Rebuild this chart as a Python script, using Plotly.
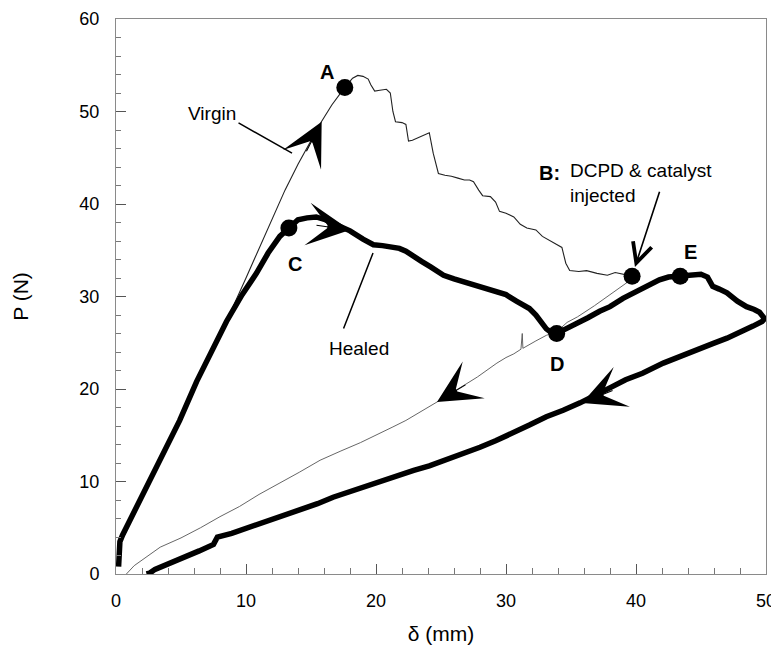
import plotly.graph_objects as go

# ---- data (delta in mm, P in N) ----
virgin_x = [0.25, 0.35, 1.0, 2.0, 3.0, 4.0, 5.0, 6.0, 7.0, 8.0, 9.0, 10.0, 11.0, 12.0, 13.0, 14.0, 15.0, 15.8, 16.6, 17.6,
            18.2, 18.6, 19.0, 19.4, 19.6, 19.9, 20.3, 20.8, 21.1, 21.3, 21.5, 22.0, 22.3, 22.5, 22.8, 23.3, 23.8, 24.1,
            24.4, 24.8, 25.3, 25.8, 26.3, 26.8, 27.2, 27.5, 27.9, 28.2, 28.8, 29.2, 29.5, 30.0, 30.6, 31.1, 31.6, 32.3,
            32.8, 33.3, 33.9, 34.3, 34.6, 34.9, 35.6, 36.2, 37.0, 37.8, 38.4, 39.0, 39.7]
virgin_p = [1.2, 3.3, 5.3, 8.4, 11.3, 14.2, 17.2, 20.3, 23.2, 26.0, 28.9, 32.0, 35.2, 38.3, 41.5, 44.3, 46.9, 48.9, 50.7, 52.6,
            53.6, 53.9, 53.8, 53.5, 52.9, 52.2, 52.3, 52.4, 52.0, 50.0, 48.9, 48.8, 48.6, 46.8, 46.9, 47.2, 47.5, 47.7,
            45.5, 43.3, 43.1, 43.0, 42.8, 42.6, 42.6, 42.4, 41.5, 40.9, 40.8, 40.2, 39.2, 39.0, 38.6, 37.8, 37.4, 37.2,
            36.5, 36.1, 35.7, 35.3, 33.6, 32.8, 32.7, 32.8, 32.5, 32.3, 32.6, 32.4, 32.2]

unload_v_x = [39.7, 39.3, 38.0, 36.8, 35.5, 34.7, 33.9, 33.1, 32.3, 31.5, 31.3, 31.25, 31.15, 30.6, 30.0, 29.3, 28.5, 27.8,
              27.0, 26.5, 25.6, 24.7, 23.5, 22.3, 21.3, 20.0, 18.8, 17.3, 15.7, 14.1, 12.6, 11.0, 9.5, 8.0, 6.5, 5.0,
              3.4, 2.2, 1.4, 0.8]
unload_v_p = [32.2, 31.5, 30.2, 29.0, 27.8, 27.2, 26.2, 25.8, 25.2, 24.6, 24.4, 26.0, 24.3, 23.8, 23.4, 22.8, 22.0, 21.3,
              20.6, 20.2, 19.4, 18.6, 17.6, 16.6, 15.9, 15.0, 14.2, 13.3, 12.3, 11.0, 9.8, 8.6, 7.3, 6.2, 5.0, 3.9,
              2.9, 1.7, 0.9, 0.0]

healed_x = [0.2, 0.3, 0.5, 1.0, 2.0, 2.6, 3.5, 4.9, 6.2, 7.3, 8.5, 9.7, 10.8, 11.7, 12.6, 13.3, 14.0, 14.7, 15.4, 16.1,
            16.7, 17.4, 18.0, 19.0, 19.8, 20.5, 21.2, 21.8, 22.3, 22.8, 23.5, 24.2, 25.2, 26.0, 26.7, 27.3, 28.0, 29.3,
            30.0, 30.8, 31.8, 32.3, 32.6, 33.1, 33.5, 33.9, 34.6, 35.5, 36.3, 37.2, 38.0, 39.0, 40.3, 41.1, 41.8, 42.5,
            43.4, 44.2, 45.0, 45.5, 45.9, 46.4, 47.0, 47.8, 48.5, 49.1, 49.5, 49.9, 49.7, 49.0, 48.0, 47.0, 45.9, 44.5,
            43.4, 42.1, 40.5, 39.2, 38.1, 36.9, 35.7, 34.4, 33.1, 31.8, 30.5, 29.2, 28.0, 26.7, 25.4, 24.1, 22.9, 21.6,
            20.3, 19.0, 17.8, 16.7, 15.5, 14.1, 12.6, 11.3, 10.1, 8.9, 7.8, 7.5, 6.4, 5.2, 4.0, 3.0, 2.6, 2.35]
healed_p = [0.8, 3.5, 4.2, 5.6, 8.5, 10.2, 12.8, 16.6, 20.8, 24.0, 27.3, 30.2, 32.5, 34.7, 36.5, 37.4, 38.3, 38.5, 38.6, 38.3,
            37.9, 37.5, 37.1, 36.2, 35.6, 35.5, 35.3, 35.2, 34.9, 34.5, 33.8, 33.2, 32.3, 31.9, 31.6, 31.3, 31.0, 30.5,
            30.2, 29.5, 28.7, 28.0, 27.4, 26.5, 26.1, 26.0, 26.5, 27.1, 27.7, 28.4, 28.9, 29.8, 30.7, 31.3, 31.8, 32.1,
            32.2, 32.4, 32.4, 32.1, 31.1, 30.8, 30.4, 29.5, 28.9, 28.6, 28.3, 27.6, 27.3, 26.8, 26.1, 25.5, 24.9, 24.1,
            23.4, 22.8, 21.7, 21.0, 20.2, 19.3, 18.5, 17.7, 17.0, 16.1, 15.2, 14.4, 13.7, 13.0, 12.3, 11.7, 11.2, 10.6,
            9.9, 9.4, 8.8, 8.3, 7.6, 6.9, 6.2, 5.5, 5.0, 4.4, 4.0, 3.2, 2.5, 1.8, 1.0, 0.5, 0.1, 0.0]

point_labels = ["A", "B", "C", "D", "E"]
point_x = [17.6, 39.7, 13.3, 33.9, 43.4]
point_p = [52.6, 32.2, 37.4, 26.0, 32.2]

x_ticks = [0, 10, 20, 30, 40, 50]
y_ticks = [0, 10, 20, 30, 40, 50, 60]

FONT = "Liberation Sans, Arial, sans-serif"

fig = go.Figure()
fig.add_trace(go.Scatter(x=unload_v_x, y=unload_v_p, mode="lines",
                         line=dict(color="#555555", width=0.9), hoverinfo="skip"))
fig.add_trace(go.Scatter(x=virgin_x, y=virgin_p, mode="lines",
                         line=dict(color="#222222", width=1.1), hoverinfo="skip"))
fig.add_trace(go.Scatter(x=healed_x, y=healed_p, mode="lines",
                         line=dict(color="black", width=5.5), hoverinfo="skip"))
fig.add_trace(go.Scatter(x=point_x, y=point_p, mode="markers",
                         marker=dict(color="black", size=17), hoverinfo="skip"))

ann = []
# point letters
letter_pos = {"A": (16.2, 54.3), "C": (13.8, 33.5), "D": (33.9, 22.7), "E": (44.2, 34.8)}
for k, (lx, ly) in letter_pos.items():
    ann.append(dict(x=lx, y=ly, text="<b>%s</b>" % k, showarrow=False,
                    font=dict(family=FONT, size=20, color="black")))
ann.append(dict(x=33.35, y=43.3, text="<b>B:</b>", showarrow=False,
                font=dict(family=FONT, size=20, color="black")))
ann.append(dict(x=34.77, y=42.3, text="DCPD &amp; catalyst<br>injected", showarrow=False,
                xanchor="left", align="left", font=dict(family=FONT, size=19, color="black")))
# B pointer arrow
ann.append(dict(x=39.92, y=33.2, ax=41.85, ay=41.5, axref="x", ayref="y", text="",
                showarrow=True, arrowhead=5, arrowsize=2.4, arrowwidth=1.6, arrowcolor="black"))
# Virgin / Healed labels and leader lines
ann.append(dict(x=7.38, y=49.8, text="Virgin", showarrow=False,
                font=dict(family=FONT, size=19, color="black")))
ann.append(dict(x=13.54, y=45.5, ax=9.31, ay=48.86, axref="x", ayref="y", text="",
                showarrow=True, arrowhead=0, arrowwidth=1.5, arrowcolor="black"))
ann.append(dict(x=18.7, y=24.4, text="Healed", showarrow=False,
                font=dict(family=FONT, size=19, color="black")))
ann.append(dict(x=19.77, y=34.7, ax=17.46, ay=26.38, axref="x", ayref="y", text="",
                showarrow=True, arrowhead=0, arrowwidth=1.5, arrowcolor="black"))
# direction arrowheads along the curves
for (tx, ty, dx, dy) in [(15.82, 48.9, -16, 31), (18.0, 37.19, -35, -5),
                         (24.69, 18.6, 30, -18), (35.85, 18.49, 32, -13)]:
    ann.append(dict(x=tx, y=ty, ax=dx, ay=dy, text="", showarrow=True,
                    arrowhead=3, arrowsize=6.5, arrowwidth=1.1, arrowcolor="black"))

fig.update_layout(
    width=771, height=647,
    margin=dict(l=108, r=13, t=11, b=81, autoexpand=False),
    paper_bgcolor="white", plot_bgcolor="white",
    showlegend=False,
    font=dict(family=FONT, size=18, color="black"),
    annotations=ann,
    xaxis=dict(range=[0, 50], tickvals=x_ticks, ticks="inside", ticklen=10, tickwidth=1,
               tickcolor="#555555", showgrid=False, zeroline=False,
               showline=True, linecolor="#8a8a8a", linewidth=1, mirror=True,
               minor=dict(dtick=2, ticks="inside", ticklen=6, tickcolor="#777777"),
               tickfont=dict(family=FONT, size=18), ticklabelstandoff=10,
               title=dict(text="δ (mm)", font=dict(family=FONT, size=21), standoff=16)),
    yaxis=dict(range=[0, 60], tickvals=y_ticks, ticks="inside", ticklen=10, tickwidth=1,
               tickcolor="#555555", showgrid=False, zeroline=False,
               showline=True, linecolor="#8a8a8a", linewidth=1, mirror=True,
               minor=dict(dtick=2, ticks="inside", ticklen=5, tickcolor="#777777"),
               tickfont=dict(family=FONT, size=18), ticklabelstandoff=12,
               title=dict(text="P (N)", font=dict(family=FONT, size=21), standoff=45)),
)

fig.write_html("out.html")
